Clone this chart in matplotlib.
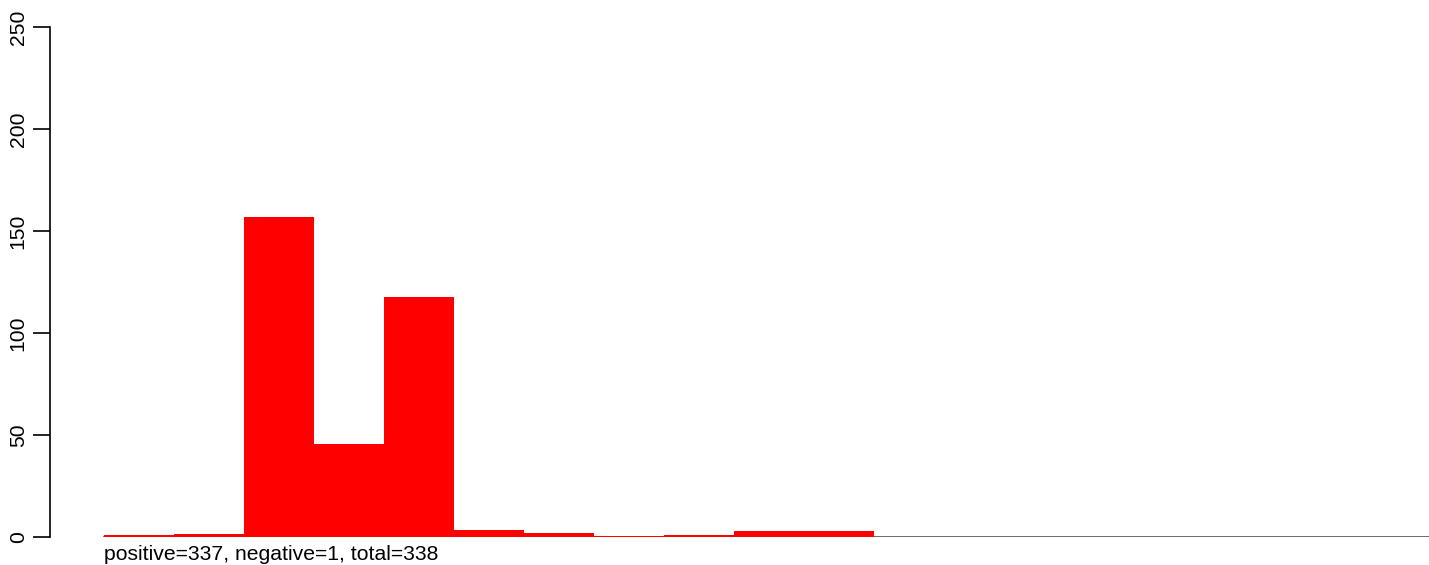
import matplotlib
matplotlib.use('Agg')
import matplotlib.pyplot as plt
import numpy as np

plt.rcParams['font.family'] = ['Liberation Sans', 'DejaVu Sans']

# bin counts (positive), 19 bins
positive = [1, 1.5, 157, 45.5, 117.5, 3.5, 2, 0.5, 1, 3, 3,
            0, 0, 0, 0, 0, 0, 0, 0]
# bins where the blue (negative) layer shows at the baseline
negative = [1, 0, 0, 0, 0, 1, 0, 1, 1, 1, 0,
            0, 0, 0, 0, 0, 0, 0, 0]
yticks = [0, 50, 100, 150, 200, 250]
caption = "positive=337, negative=1, total=338"

W, H = 1429, 565
fig = plt.figure(figsize=(W / 100, H / 100), dpi=100)
# plot region: left at x=50 px, y=0 at 537 px, y=250 at 27 px
ax = fig.add_axes([50 / W, (H - 537) / H, (W - 50) / W, 510 / H])

n = len(positive)
x = np.arange(n)
ax.plot([0, n], [0, 0], color='#606060', lw=1.3, zorder=1)
for i, v in enumerate(negative):
    if v:
        ax.plot([i, i + 1], [0, 0], color='blue', lw=1.3, zorder=2,
                solid_capstyle='butt')
ax.bar(x, positive, width=1.0, align='edge', color='red', linewidth=0,
       zorder=3)

ax.set_xlim(-0.771, 18.93)
ax.set_ylim(0, 250)
ax.set_yticks(yticks)
ax.set_yticklabels([str(t) for t in yticks], rotation=90, va='center',
                   fontsize=15.2)
ax.tick_params(axis='y', length=12, width=1.2, pad=4)
ax.spines['left'].set_linewidth(1.2)
for s in ['top', 'right', 'bottom']:
    ax.spines[s].set_visible(False)
ax.tick_params(axis='x', bottom=False, labelbottom=False)
ax.patch.set_visible(False)

fig.text(104 / W, 1 - 554 / H, caption, ha='left', va='center', fontsize=15.2)

fig.savefig('out.png', dpi=100)
